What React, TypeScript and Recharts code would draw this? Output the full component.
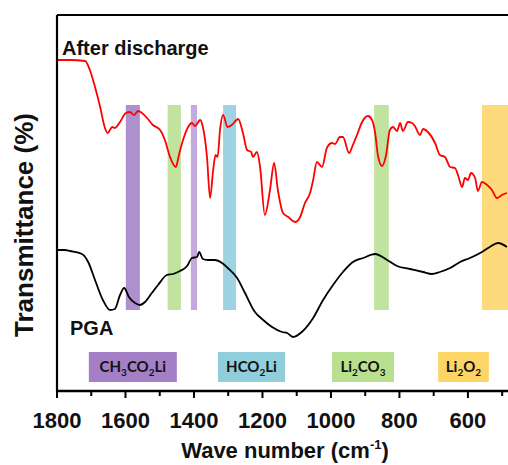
import { ComposedChart, Line, XAxis, YAxis, ReferenceArea, ReferenceLine } from 'recharts';

// After discharge spectrum (red)
const redWn = [
  1800, 1762, 1718, 1704, 1689, 1674, 1660, 1652, 1639, 1631,
  1616, 1599, 1587, 1575, 1563, 1552, 1537, 1520, 1499, 1485,
  1470, 1453, 1444, 1432, 1417, 1406, 1397, 1382, 1374, 1362,
  1353, 1344, 1337, 1331, 1324, 1315, 1302, 1290, 1271, 1257,
  1245, 1233, 1228, 1216, 1207, 1193, 1178, 1166, 1155, 1140,
  1125, 1105, 1090, 1076, 1061, 1052, 1041, 1026, 1012, 997,
  988, 974, 965, 947, 936, 924, 909, 892, 880, 871,
  863, 851, 839, 828, 819, 807, 798, 790, 775, 763,
  755, 740, 731, 717, 696, 682, 667, 652, 638, 629,
  617, 609, 600, 591, 579, 571, 559, 544, 530, 515,
  501, 486,
];
const redT = [
  331, 331, 330, 321, 304, 284, 263, 258, 264, 263,
  269, 278, 279, 276, 280, 278, 273, 266, 261, 251,
  234, 224, 236, 251, 264, 268, 265, 271, 264, 234,
  193, 221, 236, 234, 261, 276, 264, 266, 272, 258,
  241, 239, 234, 239, 224, 176, 201, 228, 201, 178,
  174, 169, 174, 188, 198, 211, 229, 224, 243, 248,
  247, 254, 254, 238, 246, 256, 269, 275, 271, 258,
  236, 225, 236, 261, 264, 260, 268, 260, 269, 268,
  265, 256, 262, 259, 248, 236, 234, 224, 223, 216,
  204, 213, 211, 218, 213, 200, 209, 206, 201, 193,
  196, 198,
];

// PGA spectrum (black)
const pgaWn = [
  1800, 1777, 1762, 1727, 1709, 1689, 1666, 1645, 1631, 1616,
  1604, 1590, 1572, 1558, 1543, 1523, 1505, 1479, 1461, 1441,
  1420, 1406, 1391, 1385, 1374, 1359, 1339, 1318, 1301, 1274,
  1251, 1222, 1198, 1172, 1143, 1128, 1111, 1082, 1052, 1023,
  994, 965, 936, 906, 871, 836, 807, 769, 731, 705,
  682, 652, 623, 594, 559, 536, 512, 486,
];
const pgaT = [
  141, 141, 140, 137, 129, 111, 91, 81, 82, 96,
  103, 94, 88, 86, 89, 98, 106, 116, 117, 120,
  125, 133, 134, 139, 132, 131, 131, 128, 123, 113,
  98, 79, 71, 64, 59, 58, 54, 60, 73, 91,
  106, 119, 129, 133, 137, 131, 125, 122, 119, 117,
  119, 123, 129, 133, 139, 144, 148, 144,
];

// highlighted bands (wavenumber ranges)
const bandFrom = [1599, 1477, 1409, 1315, 874, 559];
const bandTo = [1558, 1438, 1391, 1277, 831, 483];
const bandColors = ['#a07cc3', '#b6de8f', '#b99bd7', '#8ecbdc', '#b6de8f', '#fdd465'];

// legend boxes
const compounds = ['CH3CO2Li', 'HCO2Li', 'Li2CO3', 'Li2O2'];
const compoundFrom = [1707, 1330, 997, 687];
const compoundTo = [1450, 1134, 816, 539];
const compoundColors = ['#a47fc6', '#90cedc', '#b9e08f', '#fdd566'];

const xTicks = [1800, 1700, 1600, 1500, 1400, 1300, 1200, 1100, 1000, 900, 800, 700, 600, 500];
const X_MIN = 483;
const X_MAX = 1800;
const Y_MAX = 376;

const redData = redWn.map((wn, i) => ({ wn, t: redT[i] }));
const pgaData = pgaWn.map((wn, i) => ({ wn, t: pgaT[i] }));

const FONT = '"Liberation Sans", Arial, sans-serif';

function XTick(props: any) {
  const { x, y, payload } = props;
  const major = payload.value % 200 === 0;
  return (
    <g>
      <line x1={x} x2={x} y1={y} y2={y + (major ? 7 : 5)} stroke="#000" strokeWidth={2} />
      {major && (
        <text x={x} y={y + 37} textAnchor="middle" fontSize={22} fontWeight="bold" fontFamily={FONT} fill="#111">
          {payload.value}
        </text>
      )}
    </g>
  );
}

function formulaLabel(name: string) {
  const parts = name.match(/\d+|\D+/g) ?? [];
  return (props: any) => {
    const { x, y, width, height } = props.viewBox;
    let down = false;
    return (
      <text x={x + width / 2} y={y + height / 2 + 5} textAnchor="middle" fontSize={15} fontWeight="bold" fontFamily="Lato, 'Open Sans', sans-serif" fill="#111">
        {parts.map((p, i) => {
          const isSub = /\d/.test(p);
          const dy = isSub ? 4 : down ? -4 : 0;
          down = isSub;
          return (
            <tspan key={i} dy={dy} fontSize={isSub ? 10 : 15}>{p}</tspan>
          );
        })}
      </text>
    );
  };
}

export default function App() {
  return (
    <div style={{ position: 'relative', width: 508, height: 465, background: '#fff' }}>
      <style>{'body{margin:0}'}</style>
      <ComposedChart width={508} height={465} margin={{ top: 15, right: 0, bottom: 0, left: 57 }}>
        <XAxis
          type="number"
          dataKey="wn"
          domain={[X_MIN, X_MAX]}
          reversed
          allowDataOverflow
          ticks={xTicks}
          interval={0}
          height={74}
          tickSize={0}
          tickMargin={0}
          tickLine={false}
          tick={<XTick />}
          axisLine={false}
        />
        <YAxis type="number" domain={[0, Y_MAX]} width={0} tick={false} tickLine={false} axisLine={false} />
        <Line data={redData} dataKey="t" type="monotone" stroke="#ff0000" strokeWidth={1.8} dot={false} isAnimationActive={false} />
        <Line data={pgaData} dataKey="t" type="monotone" stroke="#000" strokeWidth={1.8} dot={false} isAnimationActive={false} />
        {bandFrom.map((b, i) => (
          <ReferenceArea key={'b' + i} x1={b} x2={bandTo[i]} y1={81} y2={286} fill={bandColors[i]} fillOpacity={0.85} stroke="none" ifOverflow="hidden" />
        ))}
        {compounds.map((c, i) => (
          <ReferenceArea
            key={'c' + i}
            x1={compoundFrom[i]}
            x2={compoundTo[i]}
            y1={9}
            y2={39}
            fill={compoundColors[i]}
            fillOpacity={1}
            stroke="none"
            label={{ content: formulaLabel(c) }}
          />
        ))}
        {/* frame: left, top, bottom */}
        <ReferenceLine x={X_MAX} stroke="#000" strokeWidth={2.2} ifOverflow="visible" />
        <ReferenceLine y={Y_MAX} stroke="#000" strokeWidth={2.2} ifOverflow="visible" />
        <ReferenceLine y={0} stroke="#000" strokeWidth={2.6} ifOverflow="visible" />
      </ComposedChart>
      <svg width={508} height={465} style={{ position: 'absolute', left: 0, top: 0, pointerEvents: 'none' }}>
        <text transform="translate(33,225) rotate(-90)" textAnchor="middle" fontSize={26} fontWeight="bold" fontFamily={FONT} fill="#111">
          Transmittance (%)
        </text>
        <text x={62} y={55} fontSize={20} fontWeight="bold" fontFamily={FONT} fill="#111">After discharge</text>
        <text x={70} y={335} fontSize={20} fontWeight="bold" fontFamily={FONT} fill="#111">PGA</text>
        <text x={285} y={458} textAnchor="middle" fontSize={22} fontWeight="bold" fontFamily={FONT} fill="#111">
          Wave number (cm<tspan fontSize={13} dy={-9}>-1</tspan><tspan dy={9}>)</tspan>
        </text>
      </svg>
    </div>
  );
}
